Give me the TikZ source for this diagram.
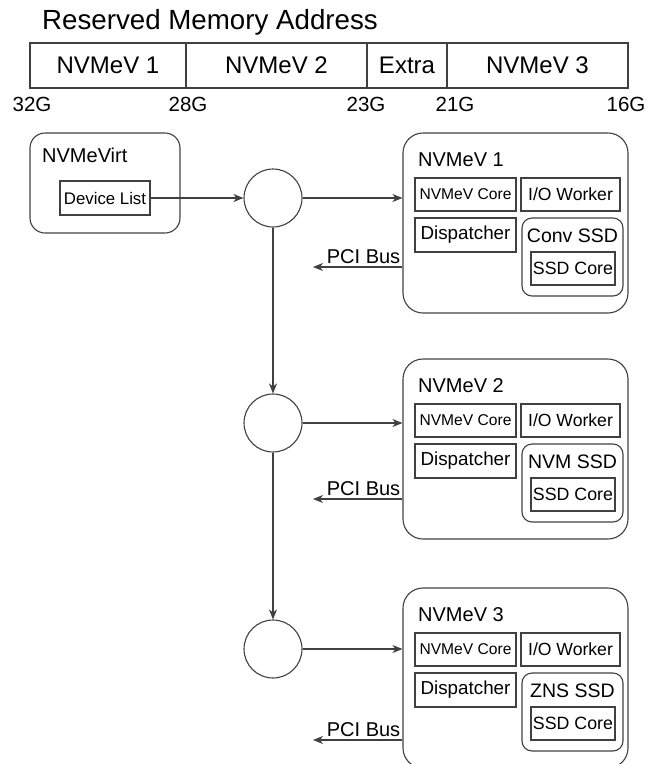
\documentclass[tikz,border=0pt]{standalone}
\usepackage{fontspec}
\setmainfont{Liberation Sans}
\usetikzlibrary{arrows.meta, positioning, calc}

% tailles de police (en pt, 1pt = 1px de la figure)
\newcommand{\taille}[1]{\fontsize{#1}{#1}\selectfont}

\tikzset{
    trait/.style={draw=black!75, line width=1.1pt},
    fleche/.style={trait, -{Stealth[length=10pt, width=8pt, inset=3pt]}},
    segment/.style={trait, rectangle, minimum height=45, inner sep=0pt, font=\taille{24}},
    adresse/.style={inner sep=0pt, font=\taille{20.5}},
    conteneur/.style={trait, rectangle, rounded corners=#1},
    boite/.style={trait, rectangle, inner sep=0pt},
    hub/.style={trait, circle, minimum size=58, inner sep=0pt},
    titre/.style={anchor=west, inner sep=0pt, font=\taille{20}}
}

\begin{document}
\begin{tikzpicture}[x=1pt, y=-1pt]
    \useasboundingbox (0,0) rectangle (660,764);
    \clip (0,0) rectangle (660,764);

    % Plage memoire reservee
    \node[anchor=west, inner sep=0pt, font=\taille{27.7}] (titreMem) at (42,22) {Reserved Memory Address};
    \node[segment, minimum width=156] (seg1) at (108,65.5) {NVMeV 1};
    \node[segment, minimum width=181] (seg2) at (276.5,65.5) {NVMeV 2};
    \node[segment, minimum width=80] (seg3) at (407,65.5) {Extra};
    \node[segment, minimum width=181] (seg4) at (537.5,65.5) {NVMeV 3};

    % Adresses
    \foreach \x/\a in {32/32G, 188/28G, 366/23G, 455/21G, 626/16G} {
        \node[adresse] (adr\a) at (\x,104) {\a};
    }

    % NVMeVirt
    \node[conteneur=15, minimum width=150, minimum height=100] (virt) at (105,183) {};
    \node[titre] (virtTitre) at (42,155) {NVMeVirt};
    \node[boite, minimum width=90, minimum height=34, font=\taille{16.8}] (devlist) at (105,198) {Device List};

    % Aiguillages
    \node[hub] (hub1) at (273,198) {};
    \node[hub] (hub2) at (273,423) {};
    \node[hub] (hub3) at (273,649) {};

    \draw[fleche] (devlist.east) -- (hub1.west);
    \draw[fleche] (hub1.south) -- (hub2.north);
    \draw[fleche] (hub2.south) -- (hub3.north);

    % Instances NVMeV: {numero/haut/bus/ssd}
    \foreach \i/\T/\P/\ssd in {1/133/134/Conv SSD, 2/359/140/NVM SSD, 3/588/152/ZNS SSD} {
        \node[conteneur=20, minimum width=225, minimum height=180] (box\i) at (515.5,\T+90) {};
        \node[titre] (boxTitre\i) at (418,\T+27) {NVMeV \i};
        \node[boite, minimum width=101, minimum height=33, font=\taille{15.6}] (core\i) at (465.5,\T+61.5) {NVMeV Core};
        \node[boite, minimum width=99, minimum height=33, font=\taille{17.6}] (io\i) at (570.5,\T+61.5) {I/O Worker};
        \node[boite, minimum width=101, minimum height=34, font=\taille{18.8}] (disp\i) at (465.5,\T+102) {Dispatcher};
        \node[conteneur=10, minimum width=101, minimum height=78] (ssd\i) at (572.5,\T+124) {};
        \node[inner sep=0pt, font=\taille{19.5}] (ssdTitre\i) at (572.5,\T+102.5) {\ssd};
        \node[boite, minimum width=84, minimum height=33, font=\taille{17.8}] (ssdcore\i) at (573,\T+135.5) {SSD Core};

        % liens
        \draw[fleche] (hub\i.east) -- (hub\i.east -| box\i.west);
        \coordinate (pci\i) at (313,\T+\P);
        \draw[fleche] (pci\i -| box\i.west) -- (pci\i);
        \node[anchor=base east, inner sep=0pt, font=\taille{20}] (pciTexte\i) at ($(pci\i -| box\i.west)+(-2,-4)$) {PCI Bus};
    }

\end{tikzpicture}
\end{document}
